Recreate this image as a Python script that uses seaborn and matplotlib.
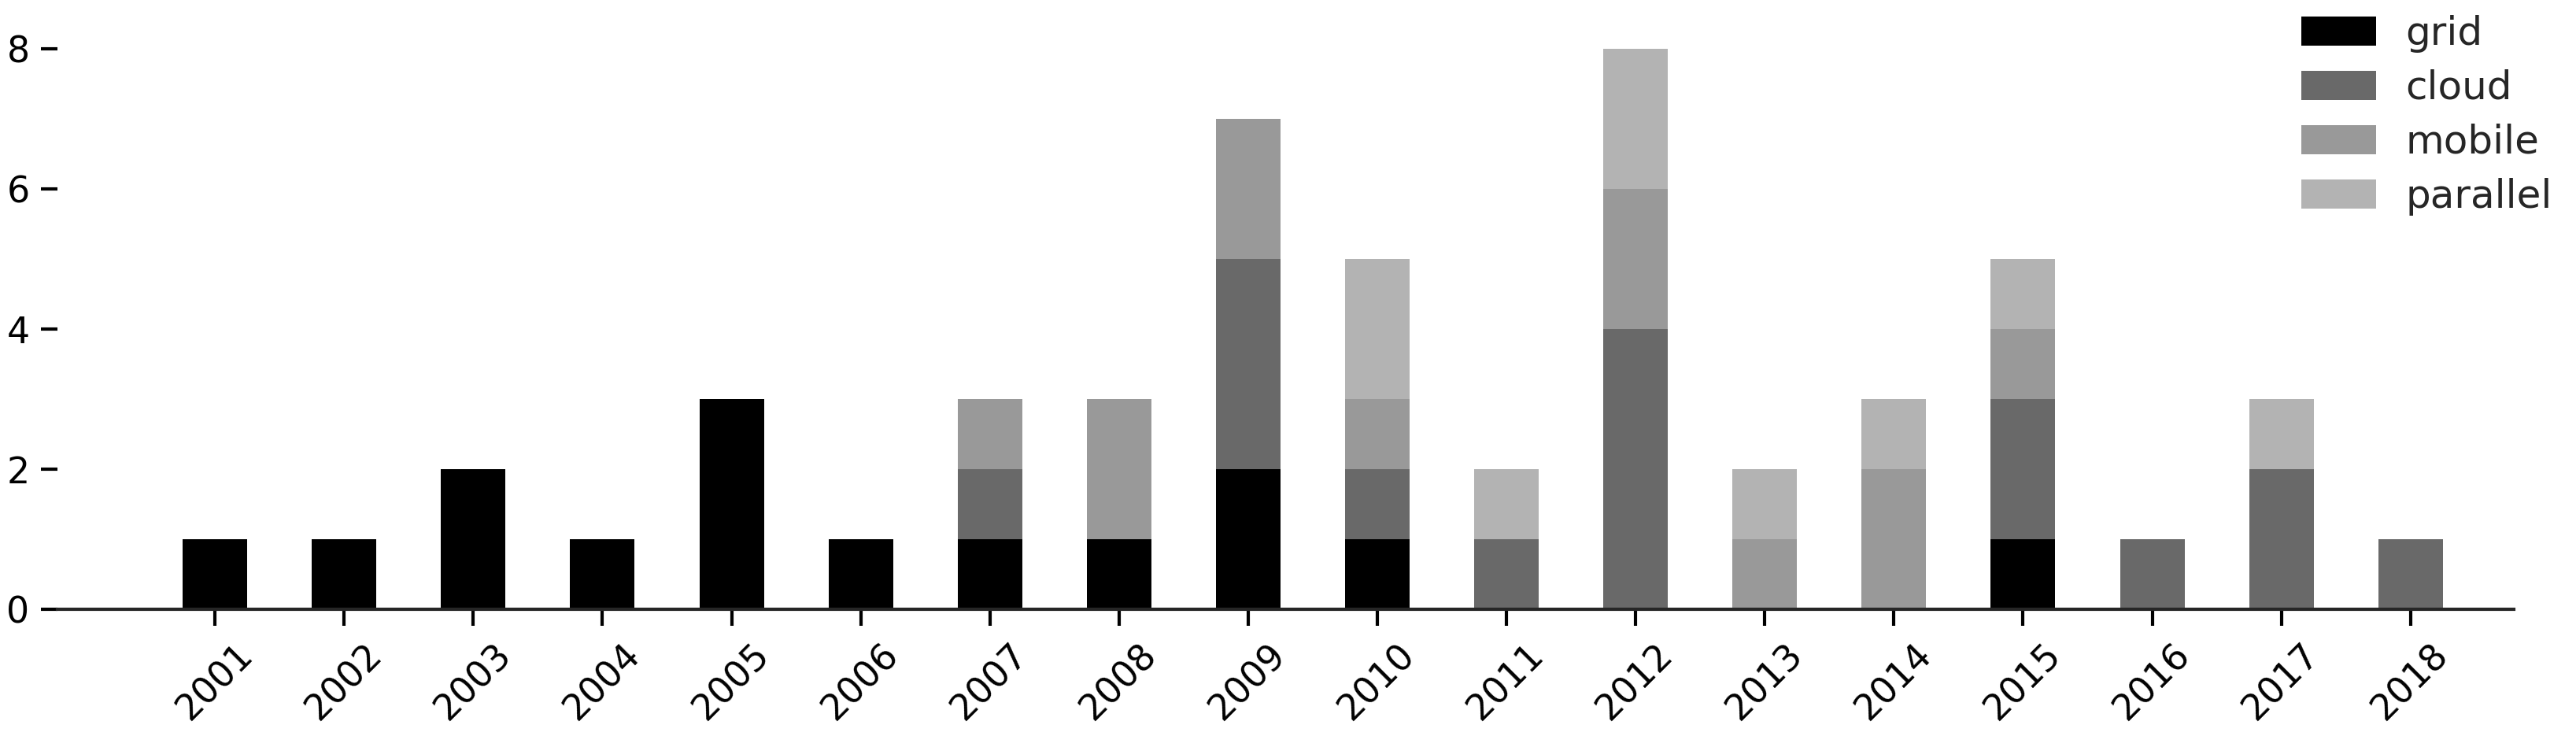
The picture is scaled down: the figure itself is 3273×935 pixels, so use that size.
import numpy as np
import pandas as pd
import matplotlib
matplotlib.use("Agg")
import matplotlib.pyplot as plt
import seaborn as sns

years = [str(y) for y in range(2001, 2019)]
topics = ["grid", "cloud", "mobile", "parallel"]

grid = [1, 1, 2, 1, 3, 1, 1, 1, 2, 1, 0, 0, 0, 0, 1, 0, 0, 0]
cloud = [0, 0, 0, 0, 0, 0, 1, 0, 3, 1, 1, 4, 0, 0, 2, 1, 2, 1]
mobile = [0, 0, 0, 0, 0, 0, 1, 2, 2, 1, 0, 2, 1, 2, 1, 0, 0, 0]
parallel = [0, 0, 0, 0, 0, 0, 0, 0, 0, 2, 1, 2, 1, 1, 1, 0, 1, 0]

colors = ["#000000", "#696969", "#999999", "#b3b3b3"]

sns.set_style("ticks")
plt.rcParams["font.family"] = ["DejaVu Sans"]

fig = plt.figure(figsize=(3273 / 300, 935 / 300), dpi=300)
ax = fig.add_axes([73 / 3273, 1 - 774 / 935, (3194 - 73) / 3273, (774 - 62) / 935])

bottom = np.zeros(len(years))
for name, vals, col in zip(topics, [grid, cloud, mobile, parallel], colors):
    sns.barplot(x=years, y=vals, bottom=bottom, color=col, width=0.5,
                order=years, label=name, ax=ax, linewidth=0, saturation=1)
    bottom = bottom + np.array(vals)

handles, labels = ax.get_legend_handles_labels()
if ax.get_legend() is not None:
    ax.get_legend().remove()

ax.set_xlim(-1.22, 17.8)
ax.set_ylim(0, 8)
ax.set_yticks([0, 2, 4, 6, 8])
ax.tick_params(axis="both", labelsize=11, width=1, length=5, colors="black")
plt.setp(ax.get_xticklabels(), rotation=45)
sns.despine(ax=ax, left=True)
ax.spines["bottom"].set_linewidth(1)

fig.legend(handles[:4], labels[:4], loc="upper right", bbox_to_anchor=(1.0, 1.012),
           frameon=False, fontsize=12, handlelength=1.9, handleheight=0.75,
           handletextpad=0.75, labelspacing=0.42, borderaxespad=0.2)

fig.savefig("out.png", dpi=300)
